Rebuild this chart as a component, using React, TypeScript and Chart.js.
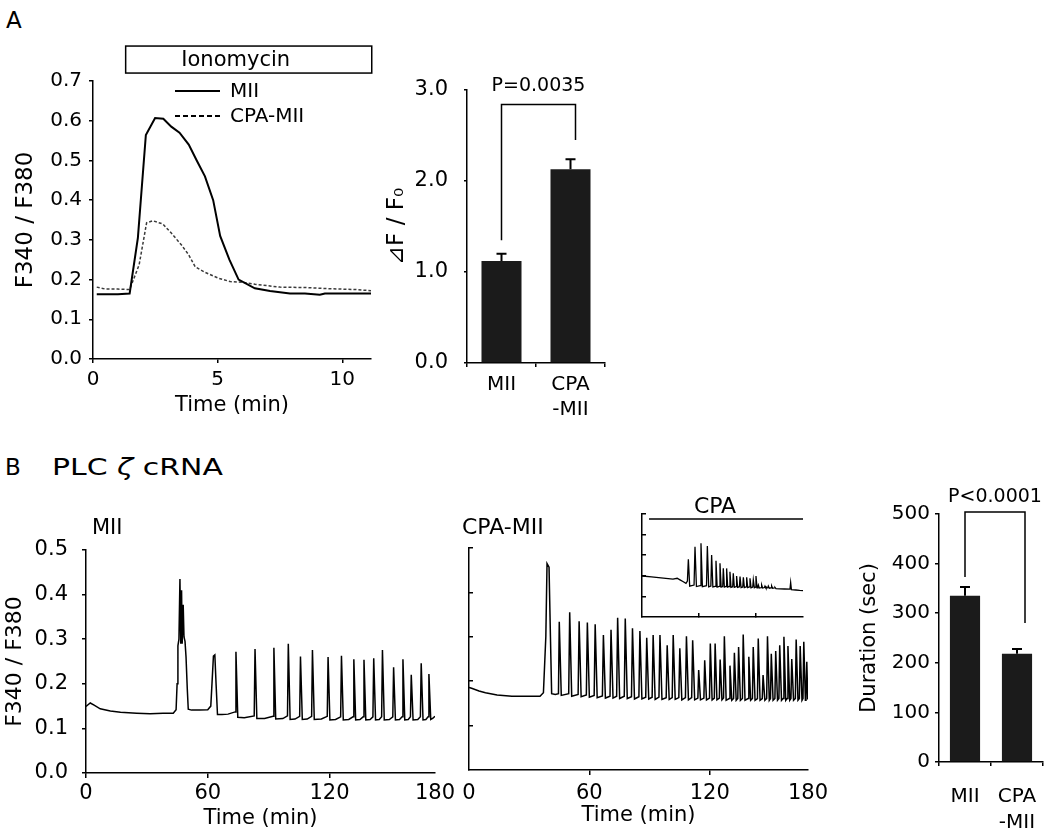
import React, { useEffect, useRef } from "react";
import { Chart, registerables } from "chart.js";

Chart.register(...registerables);

const FONT = "'DejaVu Sans', 'Liberation Sans', Arial, sans-serif";
const INK = "#000000";
const BAR_FILL = "#1b1b1b";

// ---------------- Panel A: ionomycin traces ----------------
const aTraceMII: [number, number][] = [
  [0.15, 0.163], [0.6, 0.163], [1.0, 0.163], [1.47, 0.165], [1.8, 0.305], [2.12, 0.564],
  [2.49, 0.607], [2.82, 0.605], [3.14, 0.585], [3.47, 0.57], [3.84, 0.54], [4.16, 0.5],
  [4.49, 0.46], [4.82, 0.4], [5.1, 0.31], [5.47, 0.25], [5.84, 0.2], [6.49, 0.178],
  [7.1, 0.171], [7.9, 0.165], [8.5, 0.165], [9.1, 0.162], [9.3, 0.165], [10.0, 0.165], [11.15, 0.165],
];
const aTraceCPA: [number, number][] = [
  [0.15, 0.181], [0.5, 0.176], [1.0, 0.176], [1.47, 0.175], [1.85, 0.237], [2.15, 0.343],
  [2.4, 0.348], [2.8, 0.34], [3.14, 0.317], [3.55, 0.287], [3.84, 0.262], [4.1, 0.232],
  [4.5, 0.218], [5.05, 0.203], [5.5, 0.195], [6.0, 0.193], [6.5, 0.188], [7.5, 0.181],
  [8.5, 0.18], [9.5, 0.177], [10.5, 0.175], [11.15, 0.172],
];
const aSeriesNames = ["MII", "CPA-MII"];
const aXTicks = [0, 5, 10];
const aYTicks = [0, 0.1, 0.2, 0.3, 0.4, 0.5, 0.6, 0.7];
const aXMax = 11.15;
const ionomycinLabel = "Ionomycin";
const ionomycinSpan = [1.31, 11.18]; // minutes
const ionomycinBand = [0.72, 0.788]; // y-units of box

// ---------------- Panel A: bar chart ----------------
const aBarLabels = ["MII", ["CPA", "-MII"]];
const aBarMeans = [1.12, 2.13];
const aBarErrors = [0.08, 0.11];
const aBarTicks = [0, 1, 2, 3];
const aBracket = [1.35, 2.84, 2.45]; // left end, top, right end
const aPText = "P=0.0035";

// ---------------- Panel B: MII trace ----------------
const bMIITrace: [number, number][] = [
  [0, 0.149], [1, 0.153], [2.1, 0.157], [4, 0.152], [7, 0.144], [12, 0.139], [17, 0.136], [25, 0.134],
  [31.6, 0.133], [38, 0.134], [43, 0.134], [44.4, 0.142],
  [44.9, 0.2], [45.3, 0.285], [45.8, 0.3], [46.3, 0.435], [46.7, 0.29], [47.1, 0.41], [47.4, 0.29],
  [47.9, 0.377], [48.3, 0.305], [48.8, 0.295], [49.3, 0.26], [49.9, 0.19], [50.4, 0.143],
  [52, 0.141], [56, 0.141], [60, 0.142], [61.5, 0.15],
  [62.2, 0.21], [62.8, 0.262], [63.5, 0.265], [64.1, 0.2], [64.8, 0.131], [67, 0.131], [70, 0.132], [73.5, 0.137],
  [73.9, 0.272], [74.8, 0.125], [78, 0.124], [82.9, 0.128],
  [83.3, 0.278], [84.2, 0.122], [88, 0.122], [92.2, 0.127],
  [92.6, 0.281], [93.5, 0.121], [97, 0.122], [99.3, 0.128],
  [99.7, 0.29], [100.6, 0.12], [103, 0.121], [105.3, 0.127],
  [105.7, 0.261], [106.6, 0.12], [109, 0.121], [111.2, 0.127],
  [111.6, 0.276], [112.5, 0.12], [116, 0.121], [118.9, 0.127],
  [119.3, 0.26], [120.2, 0.119], [123, 0.12], [125.5, 0.126],
  [125.9, 0.263], [126.8, 0.119], [129.5, 0.12], [131.6, 0.126],
  [132.0, 0.255], [132.9, 0.119], [135, 0.12], [136.6, 0.126],
  [137.0, 0.254], [137.9, 0.119], [140, 0.12], [141.4, 0.126],
  [141.8, 0.257], [142.7, 0.119], [144.5, 0.12], [145.7, 0.126],
  [146.1, 0.276], [147.0, 0.119], [149.5, 0.12], [151.2, 0.126],
  [151.6, 0.237], [152.5, 0.119], [154.5, 0.12], [155.8, 0.126],
  [156.2, 0.255], [157.1, 0.119], [158.8, 0.12], [159.9, 0.126],
  [160.3, 0.22], [161.2, 0.119], [163.5, 0.12], [164.8, 0.126],
  [165.2, 0.246], [166.1, 0.119], [167.5, 0.12], [168.6, 0.126],
  [169.0, 0.222], [169.9, 0.12], [171, 0.123], [172, 0.127],
];
const bMIIAxisEnd = 172;

// ---------------- Panel B: CPA-MII trace ----------------
const bCPATrace: [number, number][] = [
  [0, 0.186], [1.3, 0.184], [5, 0.178], [8.2, 0.174], [14, 0.169], [21.4, 0.166], [28, 0.166], [35.4, 0.166],
  [37.1, 0.174], [38.3, 0.3], [38.9, 0.465], [39.9, 0.457], [40.6, 0.3], [41.2, 0.172], [43, 0.17], [44.6, 0.172],
  [45.0, 0.334], [46.0, 0.168], [49.7, 0.172],
  [50.2, 0.355], [51.2, 0.166], [54.4, 0.17],
  [54.9, 0.335], [55.9, 0.165], [58.5, 0.169],
  [59.0, 0.332], [60.0, 0.164], [62.4, 0.168],
  [62.9, 0.328], [63.9, 0.163], [66.5, 0.167],
  [67.0, 0.304], [68.0, 0.162], [70.3, 0.166],
  [70.8, 0.316], [71.8, 0.162], [73.6, 0.166],
  [74.1, 0.343], [75.1, 0.161], [77.4, 0.166],
  [77.9, 0.341], [78.9, 0.161], [81.0, 0.165],
  [81.5, 0.319], [82.5, 0.16], [84.7, 0.165],
  [85.2, 0.313], [86.2, 0.16], [88.1, 0.164],
  [88.6, 0.298], [89.6, 0.16], [91.3, 0.164],
  [91.8, 0.304], [92.8, 0.159], [94.7, 0.164],
  [95.2, 0.304], [96.2, 0.159], [98.3, 0.163],
  [98.8, 0.281], [99.8, 0.159], [101.3, 0.163],
  [101.8, 0.304], [102.8, 0.159], [104.6, 0.163],
  [105.1, 0.274], [106.1, 0.158], [107.9, 0.163],
  [108.4, 0.301], [109.4, 0.158], [111.0, 0.163],
  [111.5, 0.292], [112.5, 0.158], [114.1, 0.162],
  [114.5, 0.225], [115.4, 0.158], [117.1, 0.162],
  [117.5, 0.247], [118.4, 0.158], [119.9, 0.162],
  [120.3, 0.285], [121.2, 0.158], [122.3, 0.162],
  [122.7, 0.285], [123.6, 0.158], [124.8, 0.162],
  [125.2, 0.249], [126.1, 0.158], [126.9, 0.162],
  [127.3, 0.301], [128.2, 0.157], [129.7, 0.161],
  [130.1, 0.235], [131.0, 0.157], [131.9, 0.161],
  [132.3, 0.264], [133.2, 0.157], [134.0, 0.161],
  [134.4, 0.277], [135.3, 0.157], [136.3, 0.161],
  [136.7, 0.305], [137.6, 0.157], [139.1, 0.161],
  [139.5, 0.255], [140.4, 0.157], [141.3, 0.161],
  [141.7, 0.277], [142.6, 0.157], [143.8, 0.161],
  [144.2, 0.296], [145.1, 0.157], [146.2, 0.161],
  [146.6, 0.214], [147.5, 0.157], [148.4, 0.161],
  [148.8, 0.301], [149.7, 0.157], [150.3, 0.161],
  [150.7, 0.262], [151.6, 0.157], [152.5, 0.161],
  [152.9, 0.268], [153.8, 0.157], [154.5, 0.161],
  [154.9, 0.281], [155.8, 0.157], [156.6, 0.161],
  [157.0, 0.3], [157.9, 0.157], [158.6, 0.161],
  [159.0, 0.279], [159.9, 0.157], [160.5, 0.161],
  [160.9, 0.25], [161.8, 0.157], [162.7, 0.161],
  [163.1, 0.294], [164.0, 0.157], [164.7, 0.161],
  [165.1, 0.279], [166.0, 0.157], [166.5, 0.161],
  [166.9, 0.289], [167.7, 0.157], [168.0, 0.161],
  [168.4, 0.244], [168.9, 0.159],
];
const bCPAAxisEnd = 169;
const bXTicks = [0, 60, 120];
const bXEndLabel = "180";
const bYTicks = [0, 0.1, 0.2, 0.3, 0.4, 0.5];

// ---------------- Panel B: inset (CPA exposure) ----------------
const insetTrace: [number, number][] = [
  [0, 1.99], [10, 1.95], [20, 1.9], [32.6, 1.84], [37, 1.88], [40, 1.8], [43.5, 1.71], [46.3, 1.63], [47.8, 1.75],
  [48.8, 2.8], [50.2, 1.5], [54.8, 1.55],
  [55.8, 3.41], [57.3, 1.48], [61.2, 1.52],
  [62.1, 3.58], [63.6, 1.47], [67.9, 1.52],
  [68.8, 3.45], [70.2, 1.46], [72.5, 1.5],
  [73.3, 3.01], [74.6, 1.46], [77.1, 1.49],
  [77.9, 2.73], [79.1, 1.45], [81.4, 1.49],
  [82.1, 2.61], [83.3, 1.45], [85.0, 1.48],
  [85.6, 2.36], [86.7, 1.45], [88.5, 1.48],
  [89.1, 2.36], [90.2, 1.45], [92.0, 1.48],
  [92.6, 2.2], [93.7, 1.44], [95.5, 1.47],
  [96.1, 2.12], [97.2, 1.44], [99.0, 1.47],
  [99.6, 1.99], [100.7, 1.44], [102.6, 1.47],
  [103.2, 1.96], [104.3, 1.43], [106.1, 1.46],
  [106.7, 1.93], [107.8, 1.43], [109.6, 1.46],
  [110.2, 1.93], [111.3, 1.43], [113.1, 1.46],
  [113.7, 1.88], [114.8, 1.42], [116.6, 1.45],
  [117.2, 1.8], [118.3, 1.42], [119.4, 1.45],
  [120.0, 1.99], [121.1, 1.42], [121.9, 1.44],
  [122.5, 1.55], [123.5, 1.41], [125.4, 1.43],
  [126.0, 1.55], [127.0, 1.41], [128.9, 1.43],
  [129.5, 1.5], [130.5, 1.4], [132.4, 1.42],
  [133.0, 1.5], [134.0, 1.4], [135.9, 1.42],
  [136.5, 1.5], [137.5, 1.39], [139.4, 1.41],
  [140.0, 1.44], [141.0, 1.38], [145, 1.37], [150, 1.36], [155.8, 1.35],
  [156.5, 1.67], [157.3, 1.33], [162, 1.31], [166, 1.29], [169.5, 1.28],
];
const insetXTicks = [60, 120];
const insetYTicks = [0, 1, 2, 3, 4, 5];
const insetXMax = 169.5;
const cpaLabel = "CPA";
const cpaSpan = [7.4, 169.5];
const cpaLevel = 4.76;

// ---------------- Panel B: duration bars ----------------
const bBarLabels = ["MII", ["CPA", "-MII"]];
const bBarMeans = [335, 218];
const bBarErrors = [18, 10];
const bBarTicks = [0, 100, 200, 300, 400, 500];
const bBracket = [373, 504, 280];
const bPText = "P<0.0001";

// ---------------- helpers ----------------
const fitW = (w: number) => (s: any) => {
  s.width = w;
  s.paddingLeft = 0; s.paddingRight = 0; s.paddingTop = 0; s.paddingBottom = 0;
};
const fitH = (h: number) => (s: any) => {
  s.height = h;
  s.paddingLeft = 0; s.paddingRight = 0; s.paddingTop = 0; s.paddingBottom = 0;
};
const setTicks = (vals: number[]) => (s: any) => {
  s.ticks = vals.map((v) => ({ value: v }));
};
const toXY = (arr: [number, number][]) => arr.map(([x, y]) => ({ x, y }));

const axisLine = { display: true, color: INK, width: 1.5 };
const gridTicks = (len: number, extra: any = {}) => ({
  drawOnChartArea: false, drawTicks: true, tickLength: len, color: INK, lineWidth: 1.5, ...extra,
});

const baseOptions = (padding: any) => ({
  responsive: false,
  animation: false as const,
  devicePixelRatio: 1,
  layout: { padding },
  plugins: { legend: { display: false }, tooltip: { enabled: false } },
});

// ---------------- plugins ----------------
const aLineExtras = {
  id: "aLineExtras",
  afterDraw(chart: any) {
    const { ctx, scales, chartArea } = chart;
    const x = scales.x, y = scales.y;
    ctx.save();
    const x0 = x.getPixelForValue(ionomycinSpan[0]);
    const x1 = x.getPixelForValue(ionomycinSpan[1]);
    const y0 = y.getPixelForValue(ionomycinBand[1]);
    const y1 = y.getPixelForValue(ionomycinBand[0]);
    ctx.strokeStyle = INK;
    ctx.lineWidth = 1.5;
    ctx.strokeRect(x0, y0, x1 - x0, y1 - y0);
    ctx.fillStyle = INK;
    ctx.font = `21px ${FONT}`;
    ctx.textAlign = "center";
    ctx.textBaseline = "middle";
    ctx.fillText(ionomycinLabel, (x0 + x1) / 2 - 13, (y0 + y1) / 2 + 1);
    // legend
    const dashes = [[], [5, 3]];
    chart.data.datasets.forEach((ds: any, i: number) => {
      const ly = chartArea.top + 10 + i * 25;
      ctx.beginPath();
      ctx.setLineDash(dashes[i]);
      ctx.lineWidth = 2;
      ctx.moveTo(chartArea.left + 82, ly);
      ctx.lineTo(chartArea.left + 127, ly);
      ctx.stroke();
      ctx.setLineDash([]);
      ctx.textAlign = "left";
      ctx.font = `20px ${FONT}`;
      ctx.fillText(ds.label, chartArea.left + 137, ly + 1);
    });
    ctx.restore();
  },
};

const makeBarExtras = (errors: number[], bracket: number[], text: string, rightShift: number, textGap: number, textSize: number) => ({
  id: "barExtras",
  afterDatasetsDraw(chart: any) {
    const { ctx } = chart;
    const y = chart.scales.y;
    const meta = chart.getDatasetMeta(0);
    const values = chart.data.datasets[0].data;
    ctx.save();
    ctx.strokeStyle = INK;
    ctx.lineWidth = 2;
    meta.data.forEach((bar: any, i: number) => {
      const yt = y.getPixelForValue(values[i] + errors[i]);
      ctx.beginPath();
      ctx.moveTo(bar.x, bar.y);
      ctx.lineTo(bar.x, yt);
      ctx.moveTo(bar.x - 5, yt);
      ctx.lineTo(bar.x + 5, yt);
      ctx.stroke();
    });
    const xl = meta.data[0].x;
    const xr = meta.data[1].x + rightShift;
    const yTop = y.getPixelForValue(bracket[1]);
    ctx.lineWidth = 1.5;
    ctx.beginPath();
    ctx.moveTo(xl, y.getPixelForValue(bracket[0]));
    ctx.lineTo(xl, yTop);
    ctx.lineTo(xr, yTop);
    ctx.lineTo(xr, y.getPixelForValue(bracket[2]));
    ctx.stroke();
    ctx.fillStyle = INK;
    ctx.font = `${textSize}px ${FONT}`;
    ctx.textAlign = "center";
    ctx.textBaseline = "middle";
    ctx.fillText(text, (xl + xr) / 2, yTop - textGap);
    ctx.restore();
  },
});

const insetExtras = {
  id: "insetExtras",
  afterDraw(chart: any) {
    const { ctx } = chart;
    const x = chart.scales.x, y = chart.scales.y;
    const x0 = x.getPixelForValue(cpaSpan[0]);
    const x1 = x.getPixelForValue(cpaSpan[1]);
    const yl = y.getPixelForValue(cpaLevel);
    ctx.save();
    ctx.fillStyle = INK;
    ctx.font = `22px ${FONT}`;
    ctx.textAlign = "center";
    ctx.textBaseline = "middle";
    ctx.fillText(cpaLabel, (x0 + x1) / 2 - 11, yl - 12);
    ctx.restore();
  },
};

// ---------------- chart configs ----------------
function aLineConfig(): any {
  return {
    type: "line",
    data: {
      datasets: [
        { label: aSeriesNames[0], data: toXY(aTraceMII), borderColor: INK, borderWidth: 2, pointRadius: 0, tension: 0, fill: false },
        { label: aSeriesNames[1], data: toXY(aTraceCPA), borderColor: "#3a3a3a", borderWidth: 1.5, borderDash: [3, 2], pointRadius: 0, tension: 0, fill: false },
      ],
    },
    options: {
      ...baseOptions({ top: 41, right: 14, left: 0, bottom: 0 }),
      scales: {
        x: {
          type: "linear", min: 0, max: aXMax,
          afterBuildTicks: setTicks(aXTicks), afterFit: fitH(66),
          grid: gridTicks(4), border: axisLine,
          ticks: { color: INK, font: { size: 20 }, padding: 5, autoSkip: false, maxRotation: 0, callback: (v: any) => String(v) },
          title: { display: true, text: "Time (min)", color: INK, font: { size: 21 }, padding: { top: 0, bottom: 7 } },
        },
        y: {
          type: "linear", min: 0, max: 0.7,
          afterBuildTicks: setTicks(aYTicks), afterFit: fitW(93),
          grid: gridTicks(4), border: axisLine,
          ticks: { color: INK, font: { size: 20 }, padding: 7, autoSkip: false, callback: (v: any) => Number(v).toFixed(1) },
          title: { display: true, text: "F340 / F380", color: INK, font: { size: 23 }, padding: { top: 12, bottom: 0 } },
        },
      },
    },
    plugins: [aLineExtras],
  };
}

function aBarConfig(): any {
  return {
    type: "bar",
    data: {
      labels: aBarLabels,
      datasets: [{ data: aBarMeans, backgroundColor: BAR_FILL, borderWidth: 0, barPercentage: 0.58, categoryPercentage: 1 }],
    },
    options: {
      ...baseOptions({ top: 28, right: 20, left: 0, bottom: 0 }),
      scales: {
        x: {
          afterFit: fitH(67),
          grid: gridTicks(4), border: axisLine,
          ticks: { color: INK, font: { size: 20, lineHeight: 1.25 }, padding: 5, maxRotation: 0, autoSkip: false },
        },
        y: {
          min: 0, max: 3,
          afterBuildTicks: setTicks(aBarTicks), afterFit: fitW(84),
          grid: gridTicks(3), border: axisLine,
          ticks: { color: INK, font: { size: 21 }, padding: 16, callback: (v: any) => Number(v).toFixed(1) },
          title: { display: true, text: "⊿F / F₀", color: INK, font: { size: 23 }, padding: { top: 0, bottom: 0 } },
        },
      },
    },
    plugins: [makeBarExtras(aBarErrors, aBracket, aPText, 5, 18, 19)],
  };
}

function bMIIConfig(): any {
  return {
    type: "line",
    data: { datasets: [{ data: toXY(bMIITrace), borderColor: INK, borderWidth: 1.5, pointRadius: 0, tension: 0, fill: false }] },
    options: {
      ...baseOptions({ top: 15, right: 20, left: 0, bottom: 0 }),
      scales: {
        x: {
          type: "linear", min: 0, max: bMIIAxisEnd,
          afterBuildTicks: setTicks([...bXTicks, bMIIAxisEnd]), afterFit: fitH(63),
          grid: gridTicks(5, { tickColor: (c: any) => (c.index === bXTicks.length ? "rgba(0,0,0,0)" : INK) }),
          border: axisLine,
          ticks: { color: INK, font: { size: 21 }, padding: 3, autoSkip: false, maxRotation: 0,
            callback: (v: any, i: number) => (i === bXTicks.length ? bXEndLabel : String(v)) },
          title: { display: true, text: "Time (min)", color: INK, font: { size: 21 }, padding: { top: 0, bottom: 5 } },
        },
        y: {
          type: "linear", min: 0, max: 0.5,
          afterBuildTicks: setTicks(bYTicks), afterFit: fitW(86),
          grid: gridTicks(4), border: axisLine,
          ticks: { color: INK, font: { size: 21 }, padding: 14, callback: (v: any) => Number(v).toFixed(1) },
          title: { display: true, text: "F340 / F380", color: INK, font: { size: 22 }, padding: { top: 2, bottom: 0 } },
        },
      },
    },
  };
}

function bCPAConfig(): any {
  return {
    type: "line",
    data: { datasets: [{ data: toXY(bCPATrace), borderColor: INK, borderWidth: 1.5, pointRadius: 0, tension: 0, fill: false }] },
    options: {
      ...baseOptions({ top: 18, right: 27, left: 0, bottom: 0 }),
      scales: {
        x: {
          type: "linear", min: 0, max: bCPAAxisEnd,
          afterBuildTicks: setTicks([...bXTicks, bCPAAxisEnd]), afterFit: fitH(66),
          grid: gridTicks(5, { tickColor: (c: any) => (c.index === 0 || c.index === bXTicks.length ? "rgba(0,0,0,0)" : INK) }),
          border: axisLine,
          ticks: { color: INK, font: { size: 21 }, padding: 6, autoSkip: false, maxRotation: 0,
            callback: (v: any, i: number) => (i === bXTicks.length ? bXEndLabel : String(v)) },
          title: { display: true, text: "Time (min)", color: INK, font: { size: 21 }, padding: { top: 0, bottom: 8 } },
        },
        y: {
          type: "linear", min: 0, max: 0.5,
          afterBuildTicks: setTicks(bYTicks.slice(1)), afterFit: fitW(14),
          grid: gridTicks(-4), border: axisLine,
          ticks: { display: false },
        },
      },
    },
  };
}

function insetConfig(): any {
  return {
    type: "line",
    data: {
      datasets: [
        { data: toXY(insetTrace), borderColor: INK, borderWidth: 1.3, pointRadius: 0, tension: 0, fill: false },
        { data: [{ x: cpaSpan[0], y: cpaLevel }, { x: cpaSpan[1], y: cpaLevel }], borderColor: INK, borderWidth: 1.5, pointRadius: 0, fill: false },
      ],
    },
    options: {
      ...baseOptions({ top: 19, right: 9, left: 0, bottom: 0 }),
      scales: {
        x: {
          type: "linear", min: 0, max: insetXMax,
          afterBuildTicks: setTicks(insetXTicks), afterFit: fitH(8),
          grid: gridTicks(-4), border: axisLine,
          ticks: { display: false },
        },
        y: {
          type: "linear", min: 0, max: 5,
          afterBuildTicks: setTicks(insetYTicks.slice(1)), afterFit: fitW(10),
          grid: gridTicks(-4), border: axisLine,
          ticks: { display: false },
        },
      },
    },
    plugins: [insetExtras],
  };
}

function bBarConfig(): any {
  return {
    type: "bar",
    data: {
      labels: bBarLabels,
      datasets: [{ data: bBarMeans, backgroundColor: BAR_FILL, borderWidth: 0, barPercentage: 0.58, categoryPercentage: 1 }],
    },
    options: {
      ...baseOptions({ top: 36, right: 7, left: 0, bottom: 0 }),
      scales: {
        x: {
          afterFit: fitH(74),
          grid: gridTicks(4), border: axisLine,
          ticks: { color: INK, font: { size: 20, lineHeight: 1.3 }, padding: 18, maxRotation: 0, autoSkip: false },
        },
        y: {
          min: 0, max: 500,
          afterBuildTicks: setTicks(bBarTicks), afterFit: fitW(99),
          grid: gridTicks(4), border: axisLine,
          ticks: { color: INK, font: { size: 20 }, padding: 5 },
          title: { display: true, text: "Duration (sec)", color: INK, font: { size: 21 }, padding: { top: 17, bottom: 0 } },
        },
      },
    },
    plugins: [makeBarExtras(bBarErrors, bBracket, bPText, 8, 15, 19)],
  };
}

// ---------------- components ----------------
type Box = { left: number; top: number; width: number; height: number };

function ChartCanvas({ box, make }: { box: Box; make: () => any }) {
  const ref = useRef<HTMLCanvasElement>(null);
  useEffect(() => {
    const chart = new Chart(ref.current as HTMLCanvasElement, make());
    return () => chart.destroy();
  }, []);
  return (
    <canvas
      ref={ref}
      width={box.width}
      height={box.height}
      style={{ position: "absolute", left: box.left, top: box.top, width: box.width, height: box.height }}
    />
  );
}

function Label({ text, left, top, size, style }: { text: React.ReactNode; left: number; top: number; size: number; style?: any }) {
  return (
    <div
      style={{
        position: "absolute", left, top, fontSize: size, lineHeight: `${size}px`, fontFamily: FONT,
        color: INK, whiteSpace: "nowrap", ...(style || {}),
      }}
    >
      {text}
    </div>
  );
}

export default function App() {
  Chart.defaults.font.family = FONT;
  Chart.defaults.color = INK;
  return (
    <div style={{ position: "absolute", left: 0, top: 0, width: 1050, height: 836, background: "#fff", overflow: "hidden" }}>
      <ChartCanvas box={{ left: 0, top: 40, width: 385, height: 385 }} make={aLineConfig} />
      <ChartCanvas box={{ left: 383, top: 62, width: 242, height: 368 }} make={aBarConfig} />
      <ChartCanvas box={{ left: 0, top: 535, width: 455, height: 301 }} make={bMIIConfig} />
      <ChartCanvas box={{ left: 455, top: 530, width: 380, height: 306 }} make={bCPAConfig} />
      <ChartCanvas box={{ left: 632, top: 495, width: 180, height: 130 }} make={insetConfig} />
      <ChartCanvas box={{ left: 840, top: 478, width: 210, height: 358 }} make={bBarConfig} />
      <Label text="A" left={6} top={9} size={23} />
      <Label text="B" left={5} top={456} size={23} />
      <Label
        text={<span>PLC <i>ζ</i> cRNA</span>}
        left={52}
        top={456}
        size={23}
        style={{ transform: "scaleX(1.3)", transformOrigin: "left center" }}
      />
      <Label text="MII" left={92} top={517} size={21} />
      <Label text="CPA-MII" left={462} top={516} size={22} />
    </div>
  );
}
